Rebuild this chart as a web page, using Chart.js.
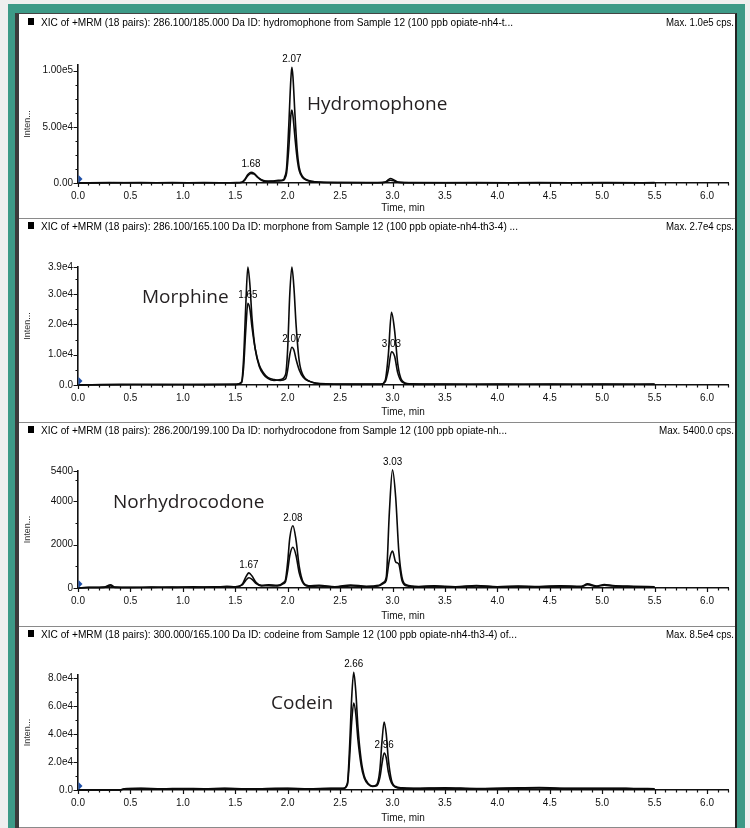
<!DOCTYPE html>
<html>
<head>
<meta charset="utf-8">
<title>XIC of +MRM - opiates, Sample 12</title>
<script src="https://cdn.jsdelivr.net/npm/chart.js@4.4.1/dist/chart.umd.min.js"></script>
<style>
  body { margin: 0; background: #efefef; width: 750px; height: 828px; overflow: hidden; position: relative; }
  #frame { position: absolute; left: 8px; top: 4px; width: 737px; height: 824px; background: #3d9a87; }
  #paper { position: absolute; left: 15px; top: 13px; width: 716px; height: 814px; background: #fff;
           border-left: 4px solid #3b3b3b; border-top: 1px solid #444; border-right: 2px solid #222; }
  #paper canvas { position: absolute; left: 0; }
  .name { position: absolute; font-family: "Open Sans", "Noto Sans", sans-serif; font-size: 19px;
          line-height: 19px; color: #231f20; white-space: nowrap; }
</style>
</head>
<body>
<div id="frame"></div>
<div id="paper">
  <canvas id="c1"></canvas>
  <canvas id="c2"></canvas>
  <canvas id="c3"></canvas>
  <canvas id="c4"></canvas>
</div>
<div class="name" style="left:307px;top:94px">Hydromophone</div>
<div class="name" style="left:142px;top:287px">Morphine</div>
<div class="name" style="left:113px;top:492px">Norhydrocodone</div>
<div class="name" style="left:271px;top:693px">Codein</div>

<script>
// time axis (min)
const xTicks = [0, 0.5, 1.0, 1.5, 2.0, 2.5, 3.0, 3.5, 4.0, 4.5, 5.0, 5.5, 6.0];

// hydromophone 286.100/185.000
const hydroTime = [0, 0.30, 0.60, 0.90, 1.20, 1.51, 1.56, 1.59, 1.62, 1.65, 1.68, 1.71, 1.75, 1.79, 1.85, 1.91, 1.96, 1.97, 1.99, 2.01,
  2.03, 2.04, 2.05, 2.07, 2.09, 2.11, 2.14, 2.18, 2.23, 2.31, 2.51, 2.86, 2.93, 2.96, 2.98, 3.01, 3.05, 3.21, 3.80, 4.40, 5.00, 5.50];
const hydroQuant = [0, 300, 200, 300, 200, 300, 600, 3000, 7500, 9500, 8500, 5500, 2500, 1500, 1800, 2300, 3000, 5000, 14000, 50000,
  92000, 103000, 95000, 60000, 30000, 14000, 6000, 3000, 1500, 800, 400, 300, 800, 3000, 4000, 3000, 800, 300, 200, 300, 200, 300];
const hydroQual = [0, 200, 300, 200, 300, 200, 500, 2500, 6500, 8500, 8000, 5500, 3000, 1800, 1500, 1800, 2500, 3500, 9000, 30000,
  60000, 65000, 60000, 40000, 22000, 11000, 5000, 2500, 1200, 600, 300, 200, 600, 2000, 2500, 2000, 600, 200, 300, 200, 300, 200];
const hydroYTicks = [0, 50000, 100000];
const hydroYLabels = ["0.00", "5.00e4", "1.00e5"];
const hydroPeakText = ["1.68", "2.07"];
const hydroPeakTime = [1.65, 2.04];
const hydroPeakHeight = [9500, 103000];

// morphone 286.100/165.100
const morphTime = [0, 0.40, 0.80, 1.20, 1.51, 1.56, 1.58, 1.60, 1.62, 1.64, 1.66, 1.69, 1.73, 1.77, 1.81, 1.87, 1.93, 1.98, 2.00, 2.02,
  2.04, 2.06, 2.08, 2.11, 2.15, 2.21, 2.31, 2.61, 2.89, 2.93, 2.96, 2.99, 3.02, 3.05, 3.09, 3.16, 3.50, 4.00, 4.50, 5.00, 5.50];
const morphQuant = [0, 200, 100, 200, 200, 1000, 9000, 26000, 39000, 33000, 22000, 12000, 6000, 3500, 2200, 1500, 1800, 3500, 12000, 30000,
  39000, 32000, 20000, 8000, 3000, 1200, 500, 300, 300, 1500, 10000, 24000, 18000, 7000, 1500, 400, 300, 200, 300, 200, 300];
const morphQual = [0, 100, 200, 100, 200, 800, 6000, 18000, 27000, 25000, 19000, 12000, 6500, 4000, 2500, 1800, 1500, 2000, 5000, 10000,
  12500, 11500, 8500, 5000, 2500, 1200, 400, 200, 200, 1000, 5000, 11000, 9500, 4000, 1000, 300, 200, 300, 200, 300, 200];
const morphYTicks = [0, 10000, 20000, 30000, 39000];
const morphYLabels = ["0.0", "1.0e4", "2.0e4", "3.0e4", "3.9e4"];
const morphPeakText = ["1.65", "2.07", "3.03"];
const morphPeakTime = [1.62, 2.04, 2.99];
const morphPeakHeight = [27000, 12500, 11000];

// norhydrocodone 286.200/199.100
const norTime = [0, 0.10, 0.25, 0.31, 0.35, 0.50, 0.70, 0.90, 1.10, 1.30, 1.42, 1.50, 1.57, 1.60, 1.63, 1.66, 1.70, 1.75, 1.82, 1.90,
  1.96, 1.98, 2.00, 2.02, 2.05, 2.08, 2.11, 2.15, 2.20, 2.30, 2.45, 2.60, 2.75, 2.87, 2.91, 2.94, 2.97, 3.00, 3.03, 3.06, 3.09, 3.13,
  3.25, 3.40, 3.60, 3.80, 4.00, 4.20, 4.40, 4.60, 4.80, 4.86, 4.95, 5.02, 5.10, 5.30, 5.50];
const norQuant = [0, 30, 40, 150, 40, 30, 40, 30, 50, 40, 80, 60, 200, 500, 700, 550, 250, 120, 150, 120,
  250, 400, 1200, 2300, 2870, 2200, 1000, 250, 100, 120, 60, 140, 80, 120, 250, 500, 3500, 5450, 4200, 1700, 500, 150,
  70, 100, 60, 110, 60, 90, 70, 100, 80, 190, 90, 160, 110, 80, 60];
const norQual = [0, 20, 30, 100, 30, 20, 30, 40, 30, 50, 60, 50, 150, 350, 470, 400, 200, 100, 110, 90,
  200, 300, 800, 1500, 1880, 1500, 700, 200, 80, 90, 50, 100, 60, 100, 200, 350, 1300, 1700, 1200, 1100, 350, 100,
  50, 80, 40, 90, 50, 70, 50, 80, 60, 150, 70, 130, 90, 60, 40];
const norYTicks = [0, 2000, 4000, 5400];
const norYLabels = ["0", "2000", "4000", "5400"];
const norPeakText = ["1.67", "2.08", "3.03"];
const norPeakTime = [1.63, 2.05, 3.00];
const norPeakHeight = [700, 2870, 5450];

// codeine 300.000/165.100
const codTime = [0, 0.40, 0.44, 0.60, 0.80, 1.00, 1.20, 1.40, 1.60, 1.80, 2.00, 2.20, 2.41, 2.53, 2.57, 2.59, 2.61, 2.63, 2.65, 2.67,
  2.70, 2.73, 2.77, 2.81, 2.85, 2.88, 2.90, 2.92, 2.94, 2.96, 2.99, 3.03, 3.09, 3.20, 3.50, 3.80, 4.10, 4.40, 4.70, 5.00, 5.30, 5.50];
const codQuant = [0, 0, 900, 1200, 800, 1100, 900, 1200, 800, 1000, 1300, 900, 1200, 1300, 5000, 30000, 65000, 84000, 70000, 45000,
  22000, 10000, 4500, 2800, 4000, 15000, 35000, 48500, 40000, 22000, 7000, 2500, 1500, 1200, 1600, 1100, 1400, 1700, 1200, 1300, 1100, 900];
const codQual = [0, 0, 700, 1000, 600, 900, 700, 1000, 600, 800, 1000, 700, 1000, 1100, 4000, 22000, 48000, 62000, 54000, 36000,
  18000, 8500, 4000, 2500, 3000, 9000, 19000, 26400, 23000, 13000, 5000, 2000, 1200, 1000, 1300, 900, 1200, 1400, 1000, 1100, 900, 700];
const codYTicks = [0, 20000, 40000, 60000, 80000];
const codYLabels = ["0.0", "2.0e4", "4.0e4", "6.0e4", "8.0e4"];
const codPeakText = ["2.66", "2.96"];
const codPeakTime = [2.63, 2.92];
const codPeakHeight = [84000, 26400];

const face = "'Liberation Sans', Arial, Helvetica, sans-serif";

const panels = [
  { id: "c1", top: 0, height: 204, plotTop: 51, plotBottom: 169, yMax: 105000, yMinor: 12500,
    time: hydroTime, quant: hydroQuant, qual: hydroQual, yTicks: hydroYTicks, yLabels: hydroYLabels,
    peakText: hydroPeakText, peakTime: hydroPeakTime, peakHeight: hydroPeakHeight,
    header: "XIC of +MRM (18 pairs): 286.100/185.000 Da ID: hydromophone from Sample 12 (100 ppb opiate-nh4-t...",
    headerWidth: 472, maxText: "Max. 1.0e5 cps.", maxWidth: 68 },
  { id: "c2", top: 204, height: 204, plotTop: 49, plotBottom: 167, yMax: 39000, yMinor: 5000,
    time: morphTime, quant: morphQuant, qual: morphQual, yTicks: morphYTicks, yLabels: morphYLabels,
    peakText: morphPeakText, peakTime: morphPeakTime, peakHeight: morphPeakHeight,
    header: "XIC of +MRM (18 pairs): 286.100/165.100 Da ID: morphone from Sample 12 (100 ppb opiate-nh4-th3-4) ...",
    headerWidth: 477, maxText: "Max. 2.7e4 cps.", maxWidth: 68 },
  { id: "c3", top: 408, height: 204, plotTop: 49, plotBottom: 166, yMax: 5400, yMinor: 1000,
    time: norTime, quant: norQuant, qual: norQual, yTicks: norYTicks, yLabels: norYLabels,
    peakText: norPeakText, peakTime: norPeakTime, peakHeight: norPeakHeight,
    header: "XIC of +MRM (18 pairs): 286.200/199.100 Da ID: norhydrocodone from Sample 12 (100 ppb opiate-nh...",
    headerWidth: 466, maxText: "Max. 5400.0 cps.", maxWidth: 75 },
  { id: "c4", top: 612, height: 202, plotTop: 49, plotBottom: 164, yMax: 82000, yMinor: 10000,
    time: codTime, quant: codQuant, qual: codQual, yTicks: codYTicks, yLabels: codYLabels,
    peakText: codPeakText, peakTime: codPeakTime, peakHeight: codPeakHeight,
    header: "XIC of +MRM (18 pairs): 300.000/165.100 Da ID: codeine from Sample 12 (100 ppb opiate-nh4-th3-4) of...",
    headerWidth: 476, maxText: "Max. 8.5e4 cps.", maxWidth: 68 }
];

// squeeze text to the width it has in the instrument printout
function fitText(ctx, text, x, y, width, align) {
  const w = ctx.measureText(text).width;
  ctx.save();
  ctx.translate(x, y);
  ctx.scale(width / w, 1);
  ctx.textAlign = align;
  ctx.fillText(text, 0, 0);
  ctx.restore();
}

function buildChart(p) {
  const canvas = document.getElementById(p.id);
  canvas.width = 716;
  canvas.height = p.height;
  canvas.style.top = p.top + "px";

  const decor = {
    id: "decor",
    afterDraw(chart) {
      const ctx = chart.ctx;
      const xs = chart.scales.x, ys = chart.scales.y;
      const ax = chart.chartArea.left, ay = chart.chartArea.bottom;
      ctx.save();
      // panel separators
      ctx.fillStyle = "#8a8a8a";
      if (p.top > 0) ctx.fillRect(0, 0, chart.width, 1);
      if (p.id === "c4") ctx.fillRect(0, chart.height - 1, chart.width, 1);
      // header line
      ctx.fillStyle = "#000";
      ctx.fillRect(9, 4, 6, 7);
      ctx.font = "11.5px " + face;
      ctx.textBaseline = "middle";
      fitText(ctx, p.header, 22, 8.5, p.headerWidth, "left");
      fitText(ctx, p.maxText, 715, 8.5, p.maxWidth, "right");
      // tick marks
      ctx.strokeStyle = "#111";
      ctx.lineWidth = 1.2;
      ctx.beginPath();
      for (let v = 0; v <= xs.max + 1e-9; v += 0.1) {
        const px = Math.round(xs.getPixelForValue(v)) + 0.5;
        const major = Math.abs(v / 0.5 - Math.round(v / 0.5)) < 1e-6;
        ctx.moveTo(px, ay - (major ? 1 : 0));
        ctx.lineTo(px, ay + (major ? 4 : 2.5));
      }
      for (let v = 0; v <= p.yMax + 1e-9; v += p.yMinor) {
        const py = Math.round(ys.getPixelForValue(v)) + 0.5;
        ctx.moveTo(ax - 2.5, py);
        ctx.lineTo(ax, py);
      }
      p.yTicks.forEach(v => {
        const py = Math.round(ys.getPixelForValue(v)) + 0.5;
        ctx.moveTo(ax - 4.5, py);
        ctx.lineTo(ax, py);
      });
      ctx.stroke();
      // start marker at the origin
      ctx.fillStyle = "#1f4fa8";
      ctx.beginPath();
      ctx.moveTo(ax + 0.5, ay - 8);
      ctx.lineTo(ax + 4.5, ay - 4);
      ctx.lineTo(ax + 0.5, ay);
      ctx.closePath();
      ctx.fill();
      // retention time labels
      ctx.fillStyle = "#000";
      ctx.font = "11px " + face;
      ctx.textBaseline = "middle";
      p.peakText.forEach((t, i) => {
        const px = xs.getPixelForValue(p.peakTime[i]);
        const py = ys.getPixelForValue(p.peakHeight[i]) - 8;
        fitText(ctx, t, px, py, t.length * 4.8, "center");
      });
      ctx.restore();
    }
  };

  const toPoints = vals => p.time.map((t, i) => ({ x: t, y: vals[i] }));
  const trace = vals => ({
    data: toPoints(vals),
    borderColor: "#0a0a0a",
    borderWidth: 1.6,
    pointRadius: 0,
    fill: false,
    cubicInterpolationMode: "monotone",
    clip: false
  });

  new Chart(canvas, {
    type: "line",
    data: { datasets: [trace(p.qual), trace(p.quant)] },
    options: {
      responsive: false,
      animation: false,
      devicePixelRatio: 1,
      layout: { padding: { top: p.plotTop, right: 7, bottom: 0, left: 0 } },
      plugins: { legend: { display: false }, tooltip: { enabled: false } },
      scales: {
        x: {
          type: "linear",
          min: 0,
          max: 6.2,
          afterFit: s => { s.height = p.height - p.plotBottom; },
          afterBuildTicks: s => { s.ticks = xTicks.map(v => ({ value: v })); },
          grid: { display: false, drawTicks: false },
          border: { display: true, color: "#111", width: 1.6 },
          ticks: {
            autoSkip: false, maxRotation: 0, padding: 7, color: "#111",
            font: { family: face, size: 10 },
            callback: v => v.toFixed(1)
          },
          title: {
            display: true, text: "Time, min", color: "#111",
            font: { family: face, size: 10 }, padding: { top: 0, bottom: 4 }
          }
        },
        y: {
          min: 0,
          max: p.yMax,
          afterFit: s => { s.width = 59; },
          afterBuildTicks: s => { s.ticks = p.yTicks.map(v => ({ value: v })); },
          grid: { display: false, drawTicks: false },
          border: { display: true, color: "#111", width: 1.6 },
          ticks: {
            padding: 5, color: "#111",
            font: { family: face, size: 10 },
            callback: (v, i) => p.yLabels[i]
          },
          title: {
            display: true, text: "Inten...", color: "#333",
            font: { family: face, size: 9 }, padding: { top: 3, bottom: 0 }
          }
        }
      }
    },
    plugins: [decor]
  });
}

panels.forEach(buildChart);
</script>
</body>
</html>
